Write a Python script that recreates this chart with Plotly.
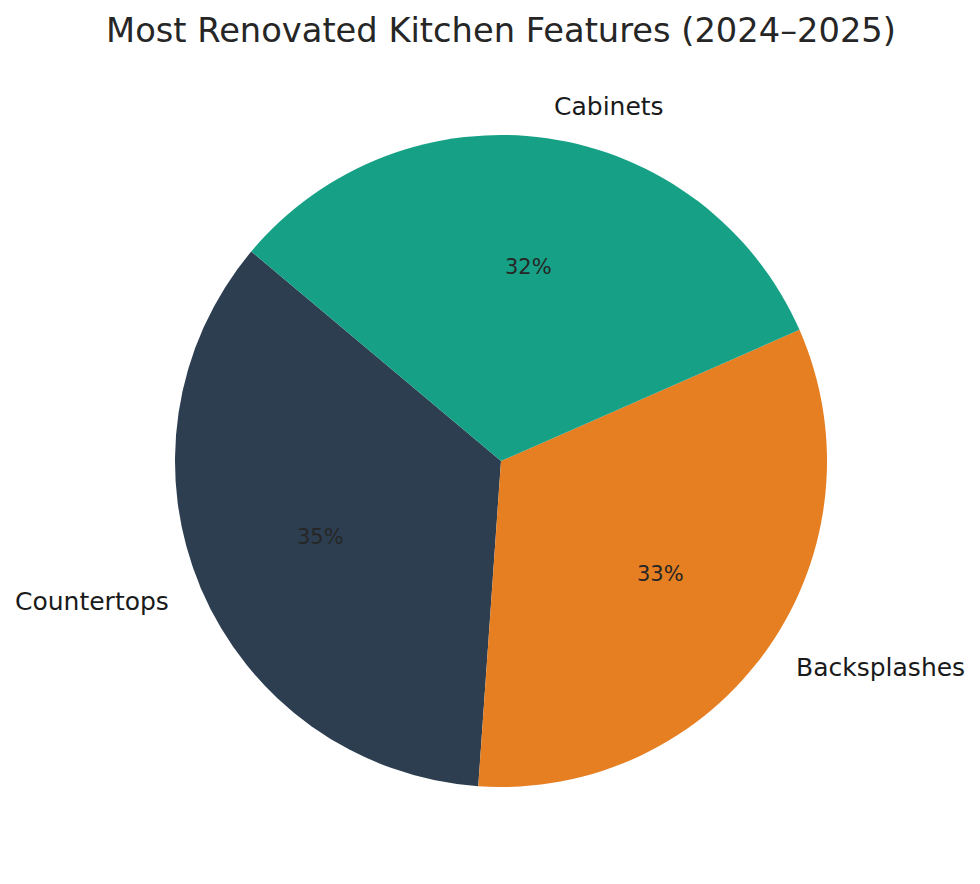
import math

import plotly.graph_objects as go

labels = ["Countertops", "Backsplashes", "Cabinets"]
values = [35.0, 32.7, 32.3]
colors = ["#2c3e50", "#e67e22", "#16a085"]
start_angle = 140  # degrees, counterclockwise from 3 o'clock

total = sum(values)
# plotly's counterclockwise pies put the end of the first slice at the rotation angle
first_end = start_angle + 360.0 * values[0] / total

fig = go.Figure(
    go.Pie(
        labels=labels,
        values=values,
        sort=False,
        direction="counterclockwise",
        rotation=90 - first_end,
        marker=dict(colors=colors, line=dict(width=0)),
        textinfo="none",
        hoverinfo="label+percent",
        showlegend=False,
    )
)

# matplotlib-style labels: names at 1.1 r, percentages at 0.6 r
angle = start_angle
for label, value in zip(labels, values):
    span = 360.0 * value / total
    mid = math.radians(angle + span / 2)
    cx, cy = math.cos(mid), math.sin(mid)
    fig.add_annotation(
        x=0.5 + 0.55 * cx,
        y=0.5 + 0.55 * cy,
        xref="paper",
        yref="paper",
        text=label,
        showarrow=False,
        xanchor="left" if cx > 0 else "right",
        yanchor="middle",
        font=dict(family="DejaVu Sans", size=25, color="#1a1a1a"),
    )
    fig.add_annotation(
        x=0.5 + 0.3 * cx,
        y=0.5 + 0.3 * cy,
        xref="paper",
        yref="paper",
        text=f"{100 * value / total:.0f}%",
        showarrow=False,
        xanchor="center",
        yanchor="middle",
        font=dict(family="DejaVu Sans", size=21, color="#262626"),
    )
    angle += span

fig.update_layout(
    title=dict(
        text="Most Renovated Kitchen Features (2024–2025)",
        x=493 / 980,
        xanchor="center",
        y=1 - 22 / 884,
        yanchor="middle",
        yref="container",
        font=dict(family="DejaVu Sans", size=33.7, color="#262626"),
    ),
    width=980,
    height=884,
    margin=dict(l=167, r=161, t=127, b=105),
    paper_bgcolor="white",
    plot_bgcolor="white",
)

fig.write_html("out.html")
